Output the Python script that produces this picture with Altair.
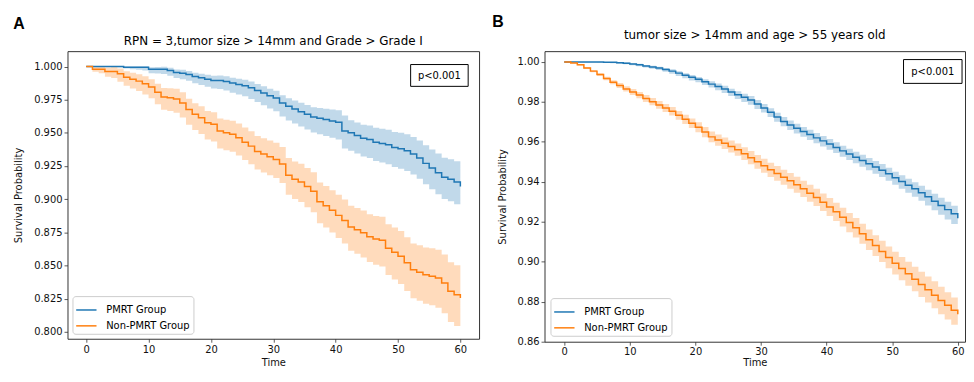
import altair as alt
import pandas as pd

time = list(range(61))
groups = ["PMRT Group", "Non-PMRT Group"]
colors = ["#1f77b4", "#ff7f0e"]

# ---------------- Panel A ----------------
a_pmrt = [1.000, 1.000, 1.000, 1.000, 1.000, 1.000, 0.9995, 0.9995, 0.9995, 0.9995,
          0.998, 0.998, 0.998, 0.997, 0.9955, 0.995, 0.994, 0.9925, 0.9915, 0.9905,
          0.9895, 0.9895, 0.9888, 0.9875, 0.9865, 0.9856, 0.984, 0.982, 0.980, 0.978,
          0.9763, 0.9726, 0.970, 0.968, 0.966, 0.964, 0.962, 0.961, 0.960, 0.959,
          0.958, 0.9514, 0.950, 0.948, 0.946, 0.945, 0.943, 0.942, 0.941, 0.939,
          0.938, 0.9365, 0.934, 0.931, 0.927, 0.9235, 0.920, 0.9165, 0.915, 0.913,
          0.9096]
a_pmrt_lo = [1.000, 1.000, 1.000, 1.000, 1.000, 0.9995, 0.9985, 0.998, 0.9975, 0.997,
             0.995, 0.9947, 0.9944, 0.9931, 0.9913, 0.9905, 0.9892, 0.9874, 0.9861, 0.9848,
             0.9835, 0.9831, 0.982, 0.9803, 0.9789, 0.9776, 0.9756, 0.9732, 0.9708, 0.9684,
             0.9663, 0.9623, 0.9594, 0.9571, 0.9548, 0.9525, 0.9502, 0.9489, 0.9476, 0.9463,
             0.945, 0.9382, 0.9366, 0.9344, 0.9322, 0.931, 0.9288, 0.9276, 0.9264, 0.9242,
             0.923, 0.9213, 0.9186, 0.9154, 0.9112, 0.9075, 0.9038, 0.9001, 0.8984, 0.8962,
             0.8926]
a_pmrt_hi = [1.000, 1.000, 1.000, 1.000, 1.000, 1.000, 1.000, 1.000, 1.000, 1.000,
             0.9995, 0.9997, 0.9999, 0.9991, 0.9978, 0.9975, 0.9967, 0.9954, 0.9946, 0.9938,
             0.993, 0.9932, 0.9927, 0.9916, 0.9908, 0.9901, 0.9887, 0.9869, 0.9851, 0.9833,
             0.9818, 0.9784, 0.9761, 0.9744, 0.9727, 0.971, 0.9694, 0.9688, 0.9682, 0.9676,
             0.967, 0.963, 0.9596, 0.9579, 0.9562, 0.9555, 0.9538, 0.9531, 0.9524, 0.9507,
             0.950, 0.9489, 0.9468, 0.9442, 0.9406, 0.9375, 0.9344, 0.9313, 0.9302, 0.9286,
             0.9256]
a_non = [1.000, 0.998, 0.998, 0.9963, 0.9963, 0.9945, 0.992, 0.9905, 0.989, 0.987,
         0.9845, 0.9806, 0.977, 0.9765, 0.9756, 0.9726, 0.9676, 0.964, 0.9614, 0.9576,
         0.9565, 0.9514, 0.950, 0.949, 0.9464, 0.943, 0.940, 0.936, 0.934, 0.932,
         0.930, 0.9265, 0.918, 0.915, 0.913, 0.9095, 0.906, 0.898, 0.895, 0.8916,
         0.8878, 0.884, 0.879, 0.877, 0.8747, 0.8717, 0.870, 0.869, 0.863, 0.860,
         0.857, 0.852, 0.8468, 0.845, 0.843, 0.842, 0.8406, 0.8368, 0.8306, 0.828,
         0.8256]
a_non_lo = [1.000, 0.996, 0.995, 0.9923, 0.9913, 0.9885, 0.9855, 0.9835, 0.9815, 0.979,
            0.976, 0.9716, 0.9675, 0.9665, 0.9651, 0.9616, 0.9562, 0.9522, 0.9492, 0.945,
            0.9435, 0.9383, 0.9368, 0.9357, 0.933, 0.9295, 0.9264, 0.9223, 0.9202, 0.9181,
            0.916, 0.9122, 0.9034, 0.9001, 0.8978, 0.894, 0.8902, 0.8819, 0.8786, 0.8749,
            0.8708, 0.8666, 0.8612, 0.8588, 0.8561, 0.8527, 0.8506, 0.8492, 0.8428, 0.8394,
            0.836, 0.8308, 0.8254, 0.8234, 0.8212, 0.820, 0.8182, 0.814, 0.8074, 0.8044,
            0.8016]
a_non_hi = [1.000, 1.000, 1.000, 0.9993, 0.9998, 0.9985, 0.9964, 0.9953, 0.9942, 0.9926,
            0.9905, 0.987, 0.9838, 0.9837, 0.9832, 0.9806, 0.9758, 0.9724, 0.970, 0.9664,
            0.9655, 0.9608, 0.9598, 0.9592, 0.957, 0.954, 0.9513, 0.9476, 0.9459, 0.9442,
            0.9425, 0.9393, 0.9311, 0.9284, 0.9267, 0.9235, 0.9203, 0.9126, 0.9099, 0.9068,
            0.9033, 0.8998, 0.8951, 0.8934, 0.8914, 0.8887, 0.8874, 0.8868, 0.8812, 0.8786,
            0.876, 0.8714, 0.8666, 0.8652, 0.8636, 0.863, 0.8619, 0.8584, 0.8525, 0.8502,
            0.8481]

# ---------------- Panel B ----------------
b_pmrt = [1.000, 1.000, 1.000, 1.000, 1.000, 1.000, 0.9999, 0.9998, 0.9996, 0.9994,
          0.999, 0.9986, 0.998, 0.9975, 0.997, 0.9962, 0.9954, 0.9944, 0.9933, 0.9923,
          0.9913, 0.9901, 0.9889, 0.9877, 0.9865, 0.985, 0.9836, 0.9823, 0.981, 0.979,
          0.9769, 0.9748, 0.9725, 0.9702, 0.9685, 0.9668, 0.9652, 0.9637, 0.962, 0.9605,
          0.9589, 0.9572, 0.9555, 0.9539, 0.9523, 0.9507, 0.949, 0.9474, 0.9458, 0.944,
          0.9421, 0.9402, 0.9383, 0.9365, 0.9346, 0.9325, 0.9303, 0.9282, 0.9261, 0.924,
          0.9218]
b_pmrt_lo = [1.000, 1.000, 0.9999, 0.9998, 0.9998, 0.9997, 0.9995, 0.9994, 0.9991, 0.9989,
             0.9984, 0.9979, 0.9972, 0.9966, 0.996, 0.9951, 0.9941, 0.993, 0.9918, 0.9907,
             0.9898, 0.9885, 0.9872, 0.9858, 0.9845, 0.9829, 0.9814, 0.980, 0.9786, 0.9765,
             0.9747, 0.9725, 0.9701, 0.9678, 0.966, 0.9642, 0.9626, 0.961, 0.9593, 0.9577,
             0.9561, 0.9544, 0.9526, 0.9509, 0.9493, 0.9475, 0.9458, 0.9441, 0.9424, 0.9406,
             0.9386, 0.9366, 0.9345, 0.9325, 0.9305, 0.9282, 0.9258, 0.9235, 0.9212, 0.9189,
             0.9168]
b_pmrt_hi = [1.000, 1.000, 1.000, 1.000, 1.000, 1.000, 1.000, 1.000, 0.9999, 0.9998,
             0.9994, 0.9991, 0.9985, 0.9981, 0.9976, 0.997, 0.9963, 0.9954, 0.9944, 0.9935,
             0.9925, 0.9914, 0.9903, 0.9892, 0.9881, 0.9866, 0.9853, 0.9841, 0.9829, 0.981,
             0.9789, 0.9768, 0.9746, 0.9724, 0.9707, 0.9691, 0.9675, 0.9661, 0.9644, 0.963,
             0.9614, 0.9598, 0.9581, 0.9566, 0.9551, 0.9535, 0.9519, 0.9504, 0.9489, 0.9471,
             0.9451, 0.9433, 0.9415, 0.9398, 0.938, 0.9361, 0.934, 0.932, 0.9301, 0.9281,
             0.9256]
b_non = [1.000, 0.9995, 0.9986, 0.997, 0.9954, 0.9937, 0.9917, 0.9898, 0.9882, 0.9865,
         0.985, 0.9834, 0.9817, 0.9801, 0.9785, 0.9769, 0.9753, 0.9733, 0.9713, 0.9693,
         0.9673, 0.9649, 0.9625, 0.9609, 0.9593, 0.9577, 0.9561, 0.9541, 0.9521, 0.950,
         0.948, 0.946, 0.9442, 0.9423, 0.9405, 0.9386, 0.9365, 0.9343, 0.9322, 0.9298,
         0.9274, 0.925, 0.9223, 0.9196, 0.917, 0.914, 0.911, 0.9081, 0.9052, 0.9022,
         0.8993, 0.8966, 0.894, 0.8913, 0.8886, 0.886, 0.8833, 0.8806, 0.8782, 0.8758,
         0.8738]
b_non_lo = [1.000, 0.9993, 0.9982, 0.9965, 0.9948, 0.993, 0.9908, 0.9888, 0.987, 0.9852,
            0.9835, 0.9818, 0.980, 0.9783, 0.9766, 0.9749, 0.9732, 0.9711, 0.969, 0.9669,
            0.9648, 0.9623, 0.9598, 0.9581, 0.9564, 0.9547, 0.953, 0.9509, 0.9488, 0.9466,
            0.9445, 0.9424, 0.9405, 0.9385, 0.9366, 0.9346, 0.9324, 0.9301, 0.9279, 0.9254,
            0.9229, 0.9204, 0.9176, 0.9148, 0.9121, 0.909, 0.9059, 0.9029, 0.8999, 0.8968,
            0.8936, 0.8908, 0.888, 0.8852, 0.8824, 0.8796, 0.8768, 0.8737, 0.8711, 0.8685,
            0.8668]
b_non_hi = [1.000, 0.9997, 0.999, 0.9975, 0.996, 0.9944, 0.9926, 0.9908, 0.9894, 0.9878,
            0.9865, 0.985, 0.9834, 0.9819, 0.9804, 0.9789, 0.9774, 0.9755, 0.9736, 0.9717,
            0.9698, 0.9675, 0.9652, 0.9637, 0.9622, 0.9607, 0.9592, 0.9573, 0.9554, 0.9534,
            0.9515, 0.9496, 0.9479, 0.9461, 0.9444, 0.9426, 0.9406, 0.9385, 0.9365, 0.9342,
            0.9319, 0.9296, 0.927, 0.9244, 0.9219, 0.919, 0.9161, 0.9133, 0.9105, 0.9076,
            0.905, 0.9024, 0.900, 0.8975, 0.895, 0.8926, 0.8902, 0.8875, 0.8848, 0.8821,
            0.8808]

x_ticks = [0, 10, 20, 30, 40, 50, 60]
a_yticks = [0.800, 0.825, 0.850, 0.875, 0.900, 0.925, 0.950, 0.975, 1.000]
b_yticks = [0.86, 0.88, 0.90, 0.92, 0.94, 0.96, 0.98, 1.00]
a_title = "RPN = 3,tumor size > 14mm and Grade > Grade I"
b_title = "tumor size > 14mm and age > 55 years old"
p_text = "p<0.001"

FONT = "DejaVu Sans"


def make_df(s1, l1, h1, s2, l2, h2):
    rows = []
    for g, s, lo, hi in ((groups[0], s1, l1, h1), (groups[1], s2, l2, h2)):
        for t, v, a, b in zip(time, s, lo, hi):
            rows.append({"time": t, "group": g, "surv": v, "lower": a, "upper": b})
    return pd.DataFrame(rows)


def panel(df, title, title_y, ydom, yticks, yfmt, xdom, w, h, label, lab_xy, box,
          leg_off, xlp, xtp):
    xenc = alt.X("time:Q", scale=alt.Scale(domain=xdom, nice=False, zero=False),
                 axis=alt.Axis(values=x_ticks, format="d", title="Time",
                               labelPadding=xlp, titlePadding=xtp))
    yscale = alt.Scale(domain=ydom, nice=False, zero=False)
    yaxis = alt.Axis(values=yticks, format=yfmt, title="Survival Probability")
    base = alt.Chart(df)
    bands = []
    for g, c in zip(groups, colors):
        bands.append(
            base.transform_filter(alt.datum.group == g)
            .mark_area(interpolate="step-after", opacity=0.28, color=c)
            .encode(x=xenc, y=alt.Y("lower:Q", scale=yscale, axis=yaxis), y2="upper:Q")
        )
    line = base.mark_line(interpolate="step-after", strokeWidth=1.5).encode(
        x=xenc,
        y=alt.Y("surv:Q", scale=yscale, axis=yaxis),
        color=alt.Color("group:N", scale=alt.Scale(domain=groups, range=colors),
                        legend=alt.Legend(orient="bottom-left", title=None, symbolType="stroke",
                                          symbolStrokeWidth=1.5, symbolSize=420,
                                          labelFont=FONT, labelFontSize=10, labelColor="black",
                                          strokeColor="#cccccc", fillColor="white",
                                          padding=3, cornerRadius=3, offset=leg_off,
                                          rowPadding=0, labelOffset=9)),
    )
    ann = pd.DataFrame({"k": [0]})
    bx0, bx1, by0, by1 = box
    rect = alt.Chart(ann).mark_rect(fill="white", stroke="black", strokeWidth=1).encode(
        x=alt.value(bx0), x2=alt.value(bx1), y=alt.value(by0), y2=alt.value(by1))
    ptxt = alt.Chart(ann).mark_text(text=p_text, font=FONT, fontSize=10, color="black",
                                    align="center", baseline="middle").encode(
        x=alt.value((bx0 + bx1) / 2), y=alt.value((by0 + by1) / 2 + 0.5))
    lab = alt.Chart(ann).mark_text(text=label, font="Liberation Sans", fontSize=16,
                                   fontWeight="bold", color="black",
                                   align="center", baseline="middle").encode(
        x=alt.value(lab_xy[0]), y=alt.value(lab_xy[1]))
    ttl = alt.Chart(ann).mark_text(text=title, font=FONT, fontSize=12, color="black",
                                   align="center", baseline="alphabetic").encode(
        x=alt.value(w / 2), y=alt.value(title_y))
    return alt.layer(*bands, line, rect, ptxt, lab, ttl).properties(width=w, height=h)


dfa = make_df(a_pmrt, a_pmrt_lo, a_pmrt_hi, a_non, a_non_lo, a_non_hi)
dfb = make_df(b_pmrt, b_pmrt_lo, b_pmrt_hi, b_non, b_non_lo, b_non_hi)

pa = panel(dfa, a_title, -5.7, [0.7948, 1.0116], a_yticks, ".3f", [-3, 63], 415, 290,
           "A", (-49, -27), (346, 404, 13.5, 35.5), 5, 2, 3)
pb = panel(dfb, b_title, -12, [0.86, 1.0054], b_yticks, ".2f", [-3, 61.1], 424, 293,
           "B", (-47, -29), (362, 421, 8.5, 32.5), 6, 1, 1)

chart = alt.hconcat(pa, pb, spacing=11).resolve_scale(
    x="independent", y="independent", color="independent"
).configure_view(stroke="#333333", strokeWidth=1).configure_axis(
    grid=False, domain=False, tickColor="#333333", tickSize=3.5, tickWidth=0.8,
    labelFont=FONT, labelFontSize=10, labelColor="#111111", labelPadding=2,
    titleFont=FONT, titleFontSize=10, titleFontWeight="normal", titleColor="#111111",
).configure_axisY(titlePadding=10).properties(
    padding={"left": 4, "top": 4, "right": 0, "bottom": 0}
)

chart.save("out.html", embed_options={"renderer": "svg", "actions": False})
